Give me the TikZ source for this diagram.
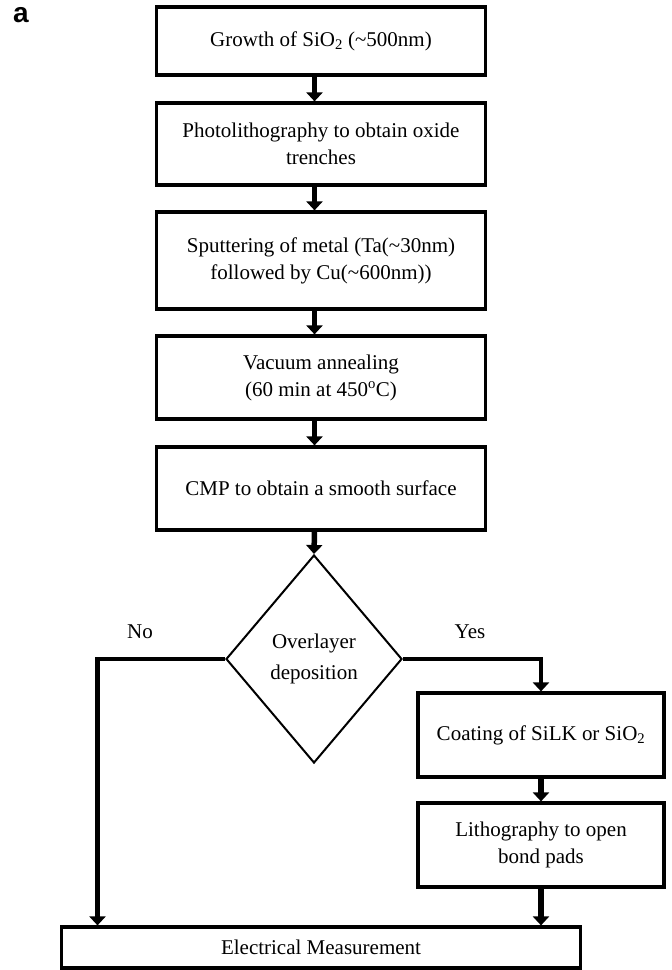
\documentclass[tikz,border=0pt]{standalone}
\usepackage{fontspec}
\setmainfont{Liberation Serif}
\newfontfamily\labelfont{Liberation Sans}
\usetikzlibrary{shapes.geometric,arrows.meta}
\tikzset{
  procbox/.style={draw,line width=3.2pt,minimum width=329pt,align=center,inner sep=2pt,
    font=\fontsize{21}{27}\selectfont},
  sidebox/.style={procbox,minimum width=246pt},
  decbox/.style={draw,diamond,line width=2pt,minimum width=176pt,minimum height=208pt,
    inner sep=0pt,align=center,font=\fontsize{21}{31}\selectfont},
  flow/.style={line width=5.5pt,-{Triangle[width=16pt,length=9pt]}},
  branch/.style={flow,line width=4.7pt},
  tag/.style={font=\fontsize{21}{27}\selectfont}
}
\begin{document}
\begin{tikzpicture}[x=1pt,y=-1pt]
   \useasboundingbox (0,0) rectangle (672,970);
   \node [font=\labelfont\bfseries\fontsize{28}{28}\selectfont] (lbl) at (21,15.5) {a};
   % main column
   \coordinate (axis) at (314.5,0);
   \node [procbox,minimum height=68pt] (grow) at (321,41) {Growth of SiO\textsubscript{2} (\textasciitilde500nm)};
   \node [procbox,minimum height=82pt] (photo) at (321,144) {Photolithography to obtain oxide\\trenches};
   \node [procbox,minimum height=97pt] (sput) at (321,260.5) {Sputtering of metal (Ta(\textasciitilde30nm)\\followed by Cu(\textasciitilde600nm))};
   \node [procbox,minimum height=83pt] (anneal) at (321,377.5) {Vacuum annealing\\(60 min at 450\textsuperscript{o}C)};
   \node [procbox,minimum height=83pt] (cmp) at (321,488.5) {CMP to obtain a smooth surface};
   \node [decbox] (dec) at (314,659) {Overlayer\\deposition};
   % right branch
   \node [sidebox,minimum height=84pt] (coat) at (541,735) {Coating of SiLK or SiO\textsubscript{2}};
   \node [sidebox,minimum height=84pt] (litho) at (541,845) {Lithography to open\\bond pads};
   \node [procbox,minimum width=519pt,minimum height=41pt] (elec) at (321,947.5) {Electrical Measurement};
   \node [tag] (no) at (140,632) {No};
   \node [tag] (yes) at (470,632) {Yes};
   \coordinate (nox) at (97.5,0);
   \draw [flow] (grow.south -| axis) -- (photo.north -| axis);
   \draw [flow] (photo.south -| axis) -- (sput.north -| axis);
   \draw [flow] (sput.south -| axis) -- (anneal.north -| axis);
   \draw [flow] (anneal.south -| axis) -- (cmp.north -| axis);
   \draw [flow] (cmp.south -| axis) -- (dec.north);
   \draw [branch] (dec.west) -| (elec.north -| nox);
   \draw [branch] (dec.east) -| (coat.north);
   \draw [flow] (coat.south) -- (litho.north);
   \draw [flow] (litho.south) -- (litho.south |- elec.north);
\end{tikzpicture}
\end{document}
